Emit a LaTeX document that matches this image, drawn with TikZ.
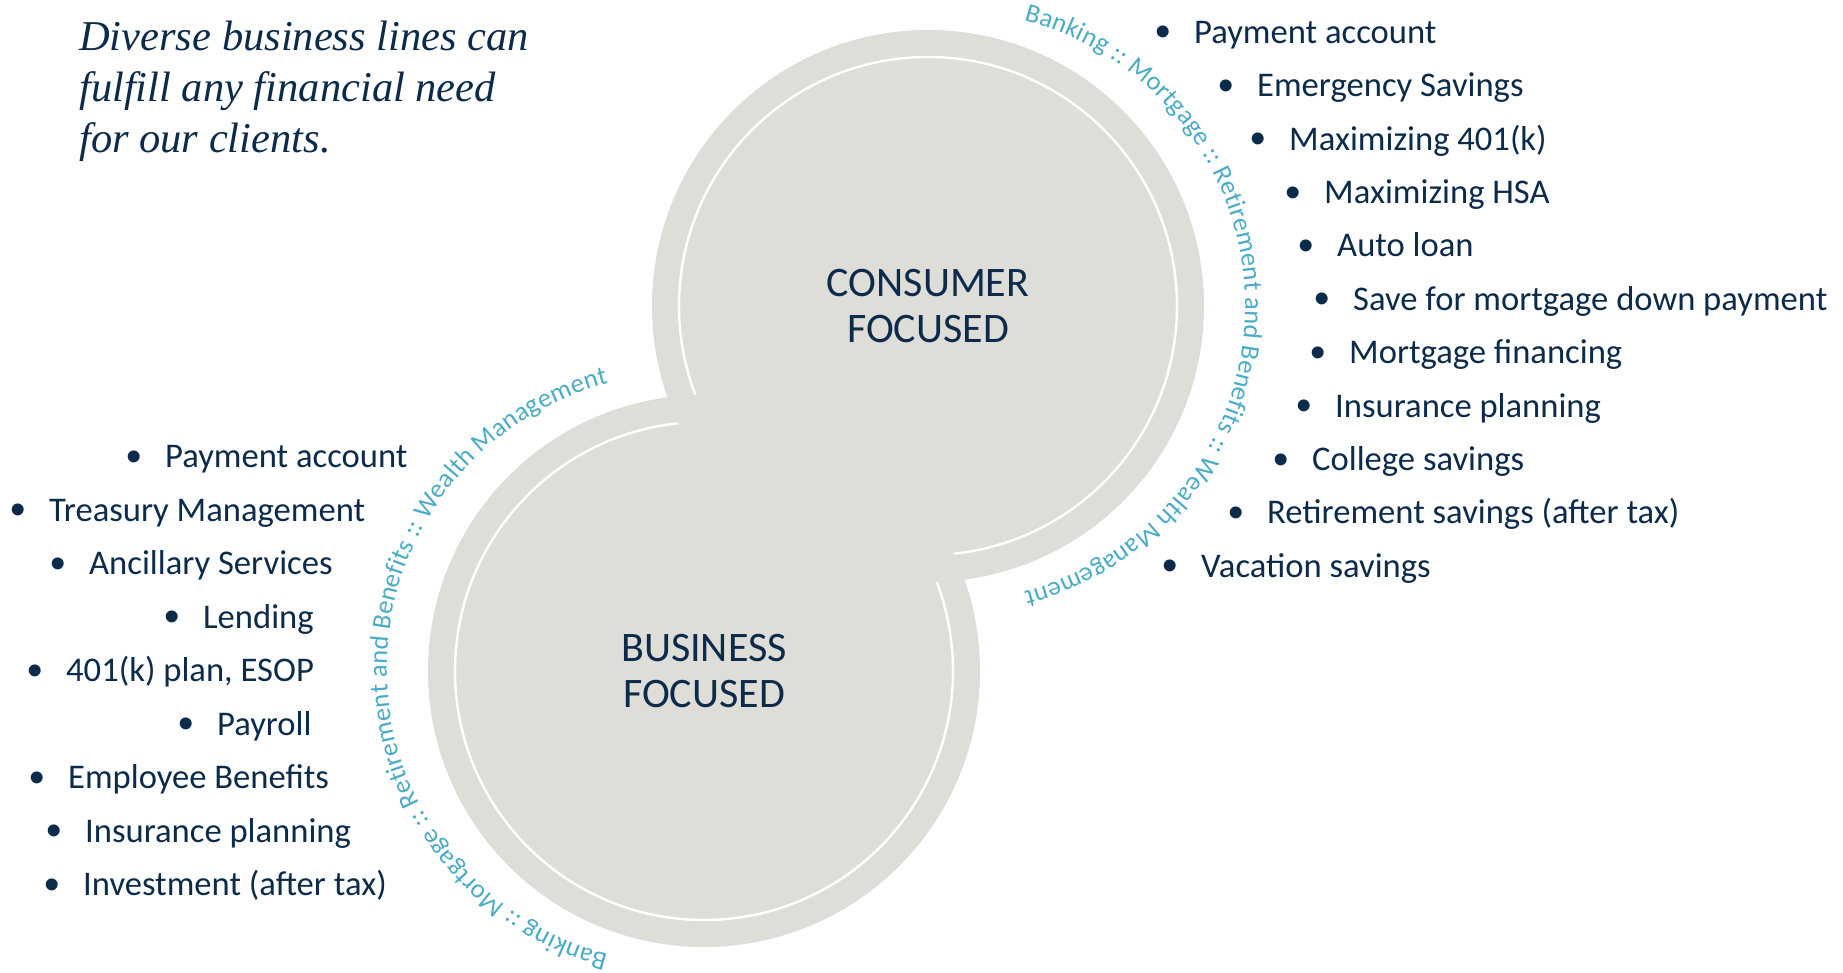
\documentclass[tikz,border=0pt]{standalone}
\usepackage{fontspec}
\setmainfont{Carlito}
\newfontfamily\headfont{Liberation Serif}
\newfontfamily\bulletfont{Liberation Sans}
\usepackage{xcolor}
\usetikzlibrary{decorations.text}

\definecolor{navy}{HTML}{0C2B4B}
\definecolor{arcblue}{HTML}{4BACC6}
\definecolor{ringgray}{HTML}{DEDDD8}

\newcommand{\bul}{\llap{\raisebox{-3.7pt}{\bulletfont\fontsize{44}{44}\selectfont\textbullet}\hspace{23pt}}}

\begin{document}
\begin{tikzpicture}[x=1pt, y=1pt,
    disc/.style={fill=ringgray},
    innerline/.style={draw=white, line width=2.4pt},
    item/.style={anchor=base west, inner sep=0pt, text=navy, font=\fontsize{34.6}{40}\selectfont},
    focus/.style={align=center, inner sep=0pt, text=navy, font=\fontsize{42}{45.5}\selectfont},
    ringtext/.style={decorate, decoration={text along path, text align={fit to path}, text color=arcblue,
        text={|\fontsize{26.5}{30}\selectfont|#1}}}
]
    \useasboundingbox (0,0) rectangle (1843,973);

    \coordinate (cc) at (928,667);
    \coordinate (bc) at (704,302);

    % the two discs
    \fill[disc] (bc) circle (276);
    \fill[disc] (cc) circle (276);
    \draw[innerline] (bc) circle (249);
    \draw[innerline] (cc) circle (249);
    % overlap stays plain grey
    \begin{scope}
        \clip (bc) circle (276);
        \fill[disc] (cc) circle (276);
    \end{scope}

    \node[focus] (consumer) at (cc) {CONSUMER\\FOCUSED};
    \node[focus] (business) at (bc) {BUSINESS\\FOCUSED};

    % business lines written round the discs
    \path[ringtext={Banking :: Mortgage :: Retirement and Benefits :: Wealth Management}, shift={(950,667)}]
        (75.5:295) arc (75.5:-75.5:295);
    \path[ringtext={Banking :: Mortgage :: Retirement and Benefits :: Wealth Management}, shift={(682,304)}]
        (255.5:295) arc (255.5:104.5:295);

    \node[anchor=base west, align=left, inner sep=0pt, text=navy, font=\headfont\itshape\fontsize{42.5}{51}\selectfont]
        (headline) at (79,820) {Diverse business lines can\\fulfill any financial need\\for our clients.};

    % consumer needs
    \node[item] (c1) at (1194,929.7) {\bul Payment account};
    \node[item] (c2) at (1257,876.3) {\bul Emergency Savings};
    \node[item] (c3) at (1289,822.9) {\bul Maximizing 401(k)};
    \node[item] (c4) at (1324,769.5) {\bul Maximizing HSA};
    \node[item] (c5) at (1337,716.1) {\bul Auto loan};
    \node[item] (c6) at (1353,662.7) {\bul Save for mortgage down payment};
    \node[item] (c7) at (1349,609.3) {\bul Mortgage financing};
    \node[item] (c8) at (1335,555.9) {\bul Insurance planning};
    \node[item] (c9) at (1312,502.5) {\bul College savings};
    \node[item] (c10) at (1267,449.1) {\bul Retirement savings (after tax)};
    \node[item] (c11) at (1201,395.7) {\bul Vacation savings};

    % business needs
    \node[item] (b1) at (165,505.4) {\bul Payment account};
    \node[item] (b2) at (49,451.9) {\bul Treasury Management};
    \node[item] (b3) at (89,398.4) {\bul Ancillary Services};
    \node[item] (b4) at (203,344.9) {\bul Lending};
    \node[item] (b5) at (66,291.4) {\bul 401(k) plan, ESOP};
    \node[item] (b6) at (217,237.9) {\bul Payroll};
    \node[item] (b7) at (68,184.4) {\bul Employee Benefits};
    \node[item] (b8) at (85,130.9) {\bul Insurance planning};
    \node[item] (b9) at (83,77.4) {\bul Investment (after tax)};
\end{tikzpicture}
\end{document}
